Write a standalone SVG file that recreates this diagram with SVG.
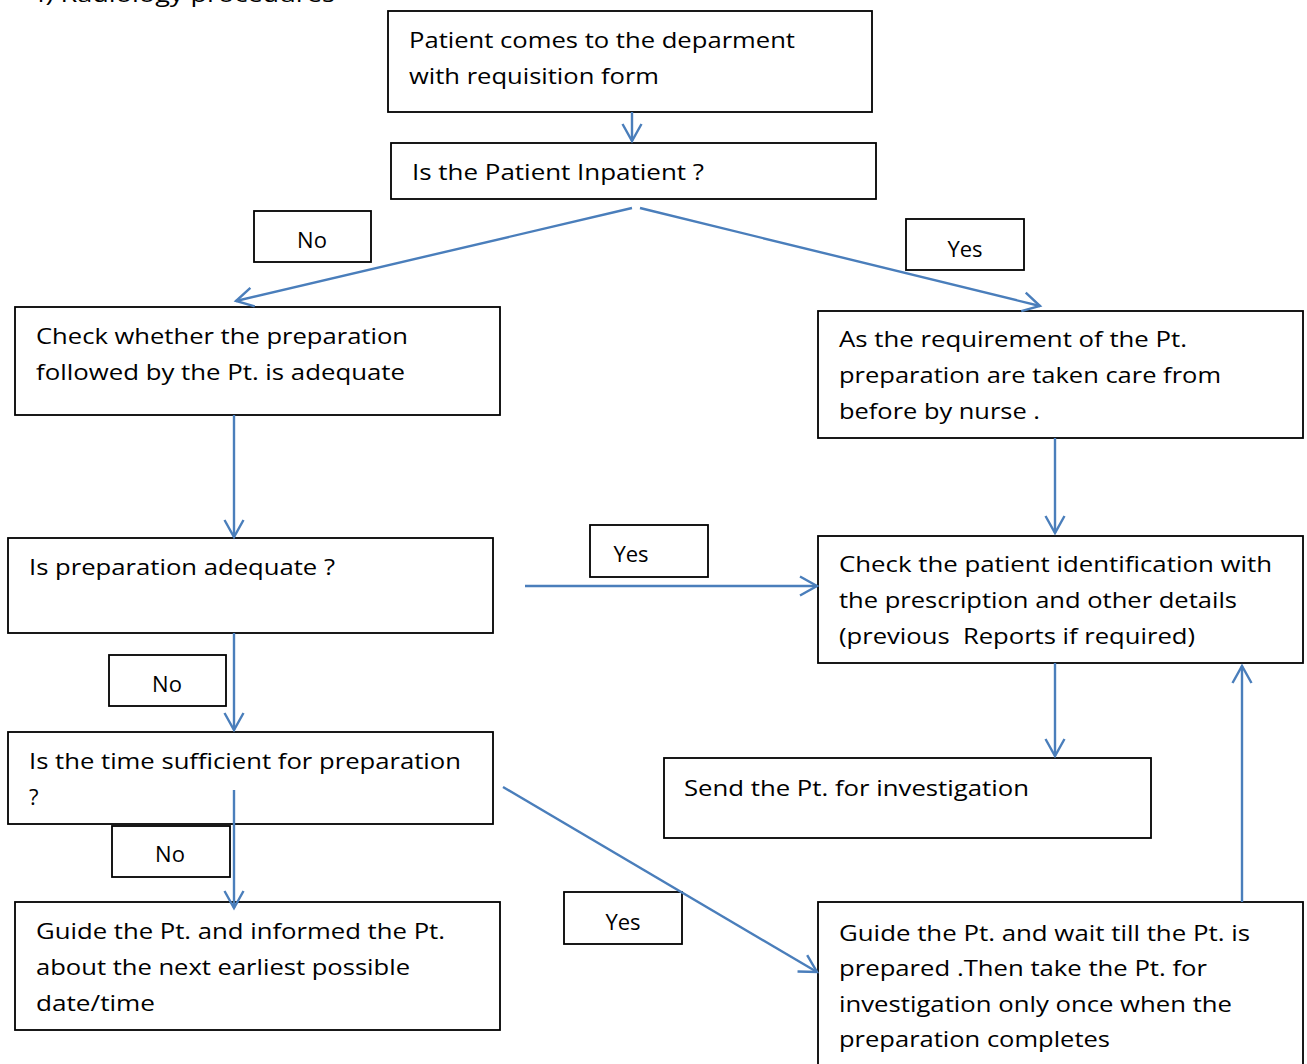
<svg xmlns="http://www.w3.org/2000/svg" width="1307" height="1064" viewBox="0 0 1307 1064">
  <style>
    .box { fill: #ffffff; stroke: #000000; stroke-width: 1.8; }
    .lbl { fill: #ffffff; stroke: #000000; stroke-width: 1.8; }
    text { font-family: "Open Sans", "Noto Sans", "Liberation Sans", sans-serif; font-size: 22px; fill: #000000; }
    .c { text-anchor: middle; }
    .conn { stroke: #4a7ebb; stroke-width: 2.4; fill: none; marker-end: url(#arr); }
  </style>
  <defs>
    <marker id="arr" markerUnits="userSpaceOnUse" viewBox="-20 -12 22 24" refX="0" refY="0" markerWidth="22" markerHeight="24" orient="auto" overflow="visible">
      <path d="M-17,-9.5 L0,0 L-17,9.5" fill="none" stroke="#4a7ebb" stroke-width="2.4" stroke-linejoin="miter"/>
    </marker>
  </defs>
  <rect width="1307" height="1064" fill="#ffffff"/>

  <!-- section heading, clipped at the page top -->
  <text x="30" y="2" textLength="305" lengthAdjust="spacingAndGlyphs">4) Radiology procedures</text>

  <g id="start">
    <rect class="box" x="388" y="11" width="484" height="101"/>
    <text x="409" y="48" textLength="386" lengthAdjust="spacingAndGlyphs">Patient comes to the deparment</text>
    <text x="409" y="84" textLength="250" lengthAdjust="spacingAndGlyphs">with requisition form</text>
  </g>

  <g id="inpatient">
    <rect class="box" x="391" y="143" width="485" height="56"/>
    <text x="412" y="180" textLength="292" lengthAdjust="spacingAndGlyphs">Is the Patient Inpatient ?</text>
  </g>

  <g id="label-no-1">
    <rect class="lbl" x="254" y="211" width="117" height="51"/>
    <text class="c" x="312" y="248">No</text>
  </g>

  <g id="label-yes-1">
    <rect class="lbl" x="906" y="219" width="118" height="51"/>
    <text class="c" x="965" y="257">Yes</text>
  </g>

  <g id="check-prep">
    <rect class="box" x="15" y="307" width="485" height="108"/>
    <text x="36" y="344" textLength="372" lengthAdjust="spacingAndGlyphs">Check whether the preparation</text>
    <text x="36" y="380" textLength="369" lengthAdjust="spacingAndGlyphs">followed by the Pt. is adequate</text>
  </g>

  <g id="nurse-prep">
    <rect class="box" x="818" y="311" width="485" height="127"/>
    <text x="839" y="347" textLength="348" lengthAdjust="spacingAndGlyphs">As the requirement of the Pt.</text>
    <text x="839" y="383" textLength="382" lengthAdjust="spacingAndGlyphs">preparation are taken care from</text>
    <text x="839" y="419" textLength="201" lengthAdjust="spacingAndGlyphs">before by nurse .</text>
  </g>

  <g id="prep-adequate">
    <rect class="box" x="8" y="538" width="485" height="95"/>
    <text x="29" y="575" textLength="306" lengthAdjust="spacingAndGlyphs">Is preparation adequate ?</text>
  </g>

  <g id="label-yes-2">
    <rect class="lbl" x="590" y="525" width="118" height="52"/>
    <text class="c" x="631" y="562">Yes</text>
  </g>

  <g id="check-id">
    <rect class="box" x="818" y="536" width="485" height="127"/>
    <text x="839" y="572" textLength="433" lengthAdjust="spacingAndGlyphs">Check the patient identification with</text>
    <text x="839" y="608" textLength="398" lengthAdjust="spacingAndGlyphs">the prescription and other details</text>
    <text x="839" y="644" textLength="356" lengthAdjust="spacingAndGlyphs" xml:space="preserve">(previous  Reports if required)</text>
  </g>

  <g id="label-no-2">
    <rect class="lbl" x="109" y="655" width="117" height="51"/>
    <text class="c" x="167" y="692">No</text>
  </g>

  <g id="time-sufficient">
    <rect class="box" x="8" y="732" width="485" height="92"/>
    <text x="29" y="769" textLength="432" lengthAdjust="spacingAndGlyphs">Is the time sufficient for preparation</text>
    <text x="29" y="805">?</text>
  </g>

  <g id="send">
    <rect class="box" x="664" y="758" width="487" height="80"/>
    <text x="684" y="796" textLength="345" lengthAdjust="spacingAndGlyphs">Send the Pt. for investigation</text>
  </g>

  <g id="label-no-3">
    <rect class="lbl" x="112" y="826" width="118" height="51"/>
    <text class="c" x="170" y="862">No</text>
  </g>

  <g id="reschedule">
    <rect class="box" x="15" y="902" width="485" height="128"/>
    <text x="36" y="939" textLength="409" lengthAdjust="spacingAndGlyphs">Guide the Pt. and informed the Pt.</text>
    <text x="36" y="975" textLength="374" lengthAdjust="spacingAndGlyphs">about the next earliest possible</text>
    <text x="36" y="1011" textLength="119" lengthAdjust="spacingAndGlyphs">date/time</text>
  </g>

  <g id="label-yes-3">
    <rect class="lbl" x="564" y="892" width="118" height="52"/>
    <text class="c" x="623" y="930">Yes</text>
  </g>

  <g id="wait-prep">
    <rect class="box" x="818" y="902" width="485" height="170"/>
    <text x="839" y="941" textLength="411" lengthAdjust="spacingAndGlyphs">Guide the Pt. and wait till the Pt. is</text>
    <text x="839" y="976" textLength="368" lengthAdjust="spacingAndGlyphs">prepared .Then take the Pt. for</text>
    <text x="839" y="1012" textLength="393" lengthAdjust="spacingAndGlyphs">investigation only once when the</text>
    <text x="839" y="1047" textLength="271" lengthAdjust="spacingAndGlyphs">preparation completes</text>
  </g>

  <g id="connectors">
    <line class="conn" x1="632" y1="112" x2="632" y2="141"/>
    <line class="conn" x1="632" y1="208" x2="236" y2="301"/>
    <line class="conn" x1="640" y1="208" x2="1040" y2="306"/>
    <line class="conn" x1="234" y1="415" x2="234" y2="537"/>
    <line class="conn" x1="1055" y1="438" x2="1055" y2="533"/>
    <line class="conn" x1="525" y1="586" x2="817" y2="586"/>
    <line class="conn" x1="234" y1="633" x2="234" y2="730"/>
    <line class="conn" x1="1055" y1="663" x2="1055" y2="756"/>
    <line class="conn" x1="234" y1="790" x2="234" y2="908"/>
    <line class="conn" x1="503" y1="787" x2="817" y2="972"/>
    <line class="conn" x1="1242" y1="902" x2="1242" y2="666"/>
  </g>
</svg>
